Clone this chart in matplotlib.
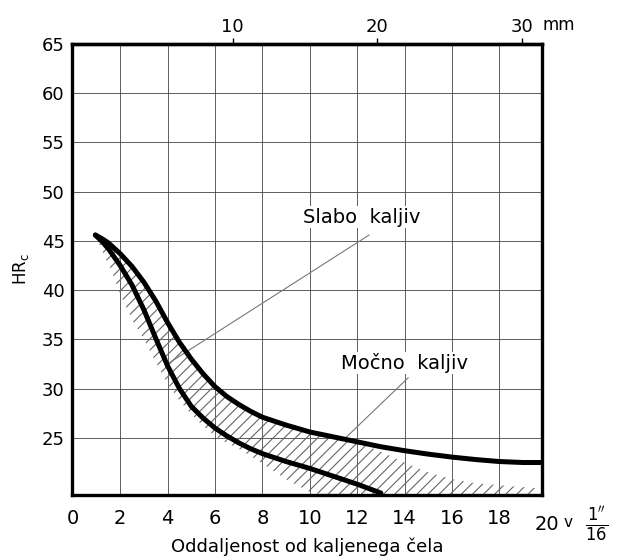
import numpy as np
import matplotlib.pyplot as plt

# Jominy curves, distance in 1/16 inch, hardness HRc
x_strong = [0.95, 1.25, 1.5, 2.0, 2.5, 3.0, 3.5, 4.0, 4.5, 5.0, 5.5, 6.0, 6.5, 7.0, 7.5, 8.0,
            9.0, 10.0, 11.0, 12.0, 13.0, 14.0, 15.0, 16.0, 17.0, 18.0, 19.0, 19.8]
y_strong = [45.6, 45.2, 44.8, 43.7, 42.4, 40.8, 38.9, 36.7, 34.7, 33.0, 31.5, 30.2, 29.2, 28.4, 27.7, 27.1,
            26.3, 25.6, 25.1, 24.6, 24.1, 23.7, 23.35, 23.05, 22.8, 22.6, 22.5, 22.5]

x_weak = [0.95, 1.25, 1.5, 2.0, 2.5, 3.0, 3.5, 4.0, 4.5, 5.0, 5.5, 6.0, 6.5, 7.0, 7.5, 8.0,
          9.0, 10.0, 11.0, 12.0, 13.0]
y_weak = [45.6, 44.9, 44.2, 42.5, 40.5, 38.0, 35.1, 32.3, 30.0, 28.2, 27.0, 26.0, 25.2, 24.5, 23.9, 23.4,
          22.6, 21.9, 21.1, 20.3, 19.4]

# hatched scatter band
x_band = [0.95, 1.3, 1.6, 2.0, 2.5, 3.0, 3.5, 4.0, 4.5, 5.0, 5.5, 6.0, 6.5, 7.0, 8.0, 9.0, 10.0,
          11.0, 12.0, 13.0, 14.0, 15.0, 16.0, 17.0, 18.0, 19.0, 19.6]
band_top = [45.6, 45.1, 44.6, 43.7, 42.4, 40.8, 38.9, 36.7, 34.7, 33.0, 31.5, 30.2, 29.2, 28.4, 27.1, 26.3, 25.6,
            25.1, 24.6, 23.6, 22.5, 21.5, 20.8, 20.4, 20.2, 20.0, 19.9]
band_bot = [45.6, 43.6, 42.2, 39.6, 37.0, 35.0, 32.7, 30.5, 28.8, 27.4, 26.2, 25.2, 24.5, 23.9, 22.4, 20.8, 19.5,
            19.0, 19.0, 19.0, 19.0, 19.0, 19.0, 19.0, 19.0, 19.0, 19.0]

x_ticks = [0, 2, 4, 6, 8, 10, 12, 14, 16, 18]
y_ticks = [25, 30, 35, 40, 45, 50, 55, 60, 65]
mm_ticks = [10, 20, 30]

plt.rcParams['font.family'] = 'DejaVu Sans'
plt.rcParams['mathtext.fontset'] = 'dejavusans'
plt.rcParams['hatch.linewidth'] = 0.8

fig = plt.figure(figsize=(6.19, 5.57), dpi=100)
ax = fig.add_axes([0.1158, 0.1113, 0.7598, 0.8097])

ax.set_xlim(-0.05, 19.8)
ax.set_ylim(19.2, 65)
ax.set_xticks(x_ticks)
ax.set_yticks(y_ticks)
ax.grid(True, color='#444444', linewidth=0.6)
ax.tick_params(axis='x', length=0, pad=10, labelsize=14)
ax.tick_params(axis='y', length=0, pad=5, labelsize=13)
for s in ax.spines.values():
    s.set_linewidth(2.4)

ax.fill_between(x_band, band_bot, band_top, facecolor='none', edgecolor='#666666',
                linewidth=0, hatch='///', zorder=2)
ax.plot(x_strong, y_strong, color='black', linewidth=3.6, solid_capstyle='round', zorder=3)
ax.plot(x_weak, y_weak, color='black', linewidth=3.6, solid_capstyle='round', zorder=3)

# labels with pointer lines
ax.text(12.2, 47.4, 'Slabo  kaljiv', ha='center', va='center', fontsize=14, zorder=4,
        bbox=dict(facecolor='white', edgecolor='none', pad=1))
ax.plot([12.5, 4.05], [45.6, 32.6], color='#777777', linewidth=0.8, zorder=2.5)
ax.text(14.0, 32.6, 'Močno  kaljiv', ha='center', va='center', fontsize=14, zorder=4,
        bbox=dict(facecolor='white', edgecolor='none', pad=1))
ax.plot([14.15, 11.55], [31.1, 25.1], color='#777777', linewidth=0.8, zorder=2.5)

# end of x scale: 20 v 1"/16
xt = ax.get_xaxis_transform()
ax.text(20.0, -0.065, '20', transform=xt, ha='center', va='center', fontsize=14, clip_on=False)
ax.text(20.9, -0.06, 'v', transform=xt, ha='center', va='center', fontsize=11, clip_on=False)
ax.text(22.1, -0.065, r'$\frac{1^{\prime\prime}}{16}$', transform=xt, ha='center', va='center',
        fontsize=17, clip_on=False)

ax.set_xlabel('Oddaljenost od kaljenega čela', fontsize=13, labelpad=7)
ax.set_ylabel(r'HR$_\mathrm{c}$', fontsize=12, labelpad=8)

# top scale in mm
top = ax.secondary_xaxis('top', functions=(lambda v: (v - 0.65) * 1.64,
                                           lambda m: m / 1.64 + 0.65))
top.set_xticks(mm_ticks)
top.set_xticklabels(['10', '20', '30'])
top.tick_params(length=4, width=1, pad=2, labelsize=13)
top.spines['top'].set_linewidth(2.4)
ax.text(30 / 1.64 + 0.65 + 1.55, 1.042, 'mm', transform=xt, ha='center', va='center',
        fontsize=12, clip_on=False)

fig.savefig('out.png', dpi=100)
